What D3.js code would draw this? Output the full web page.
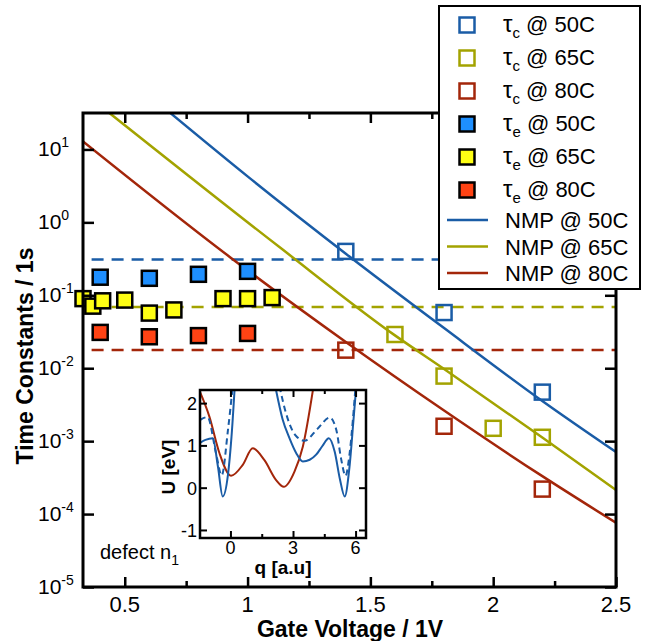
<!DOCTYPE html>
<html>
<head>
<meta charset="utf-8">
<script src="https://cdn.jsdelivr.net/npm/d3@7"></script>
<style>
  body { margin: 0; background: #fff; }
  text { font-family: "Liberation Sans", Arial, sans-serif; fill: #000; }
</style>
</head>
<body>
<script>
// capture times (open squares)
var tcVolt50 = [1.4, 1.8, 2.2];
var tc50 = [0.40, 0.058, 0.0047];
var tcVolt65 = [1.6, 1.8, 2.0, 2.2];
var tc65 = [0.029, 0.0078, 0.0015, 0.00113];
var tcVolt80 = [1.4, 1.8, 2.2];
var tc80 = [0.0177, 0.0016, 0.00022];

// emission times (filled squares)
var teVolt50 = [0.4, 0.6, 0.8, 1.0];
var te50 = [0.177, 0.171, 0.194, 0.213];
var teVolt65 = [0.33, 0.37, 0.41, 0.5, 0.6, 0.7, 0.9, 1.0, 1.1];
var te65 = [0.090, 0.071, 0.084, 0.086, 0.057, 0.063, 0.090, 0.090, 0.093];
var teVolt80 = [0.4, 0.6, 0.8, 1.0];
var te80 = [0.031, 0.027, 0.028, 0.030];

// NMP emission levels (dashed) for 50C, 65C, 80C
var teLevel = [0.31, 0.069, 0.0178];

// NMP capture curves
var nmpVolt50 = [0.683, 1.0, 1.4, 1.8, 2.2, 2.5];
var nmp50 = [32.1, 4.27, 0.372, 0.0355, 0.00355, 0.000708];
var nmpVolt65 = [0.435, 1.131, 1.6, 1.8, 2.2, 2.5];
var nmp65 = [32.1, 0.455, 0.0282, 0.00977, 0.00112, 0.000214];
var nmpVolt80 = [0.33, 0.93, 1.4, 1.8, 2.2, 2.5];
var nmp80 = [12.9, 0.331, 0.0229, 0.00263, 0.000331, 0.0000759];

var xTicks = [0.5, 1, 1.5, 2, 2.5];
var xMinor = [0.75, 1.25, 1.75, 2.25];
var yTicks = [1e-5, 1e-4, 1e-3, 1e-2, 1e-1, 1, 10];
var yExp = ["-5", "-4", "-3", "-2", "-1", "0", "1"];

// inset: configuration coordinate potentials
var qRed = [-1.49, -1.01, -0.53, 0.03, 0.59, 1.07, 1.63, 2.19, 2.56, 3.07, 3.47, 4.0];
var uRed = [2.3, 1.68, 0.82, 0.28, 0.54, 0.93, 0.65, 0.18, 0.02, 0.38, 0.97, 2.45];
var qBlueL = [-1.46, -1.2, -0.85, -0.6, -0.37, -0.12, 0.05, 0.22];
var uBlueL = [1.06, 1.13, 1.17, 0.5, -0.21, 0.3, 1.2, 2.5];
var qBlueR = [2.19, 2.5, 2.83, 3.15, 3.47, 3.8, 4.11, 4.4, 4.72, 5.0, 5.25, 5.48, 5.7, 5.9, 6.05];
var uBlueR = [2.3, 1.62, 1.17, 0.82, 0.62, 0.66, 0.78, 0.98, 1.17, 0.85, 0.2, -0.21, 0.45, 1.6, 2.5];
var qDashL = [-1.46, -1.1, -0.69, -0.42, -0.12, 0.11];
var uDashL = [1.6, 1.67, 0.81, 0.29, 1.36, 2.4];
var qDashR = [2.35, 2.67, 3.1, 3.55, 4.19, 4.76, 5.08, 5.3, 5.52, 5.7, 5.87, 6.0];
var uDashR = [2.4, 1.75, 1.25, 1.11, 1.40, 1.66, 1.36, 0.7, 0.28, 0.75, 1.6, 2.4];
var qTicks = [0, 3, 6];
var qMinor = [1.5, 4.5];
var uTicks = [-1, 0, 1, 2];

var blue = "#1a5ca6", olive = "#a3a300", red = "#a3260a";
var blueFill = "#1e8fff", yellowFill = "#ffff14", redFill = "#ff4314";

var W = 646, H = 641;
var svg = d3.select("body").append("svg").attr("width", W).attr("height", H);

var x = d3.scaleLinear().domain([0.33, 2.5]).range([83, 616]);
var y = d3.scaleLog().domain([1e-5, 31.6]).range([587, 113]);

svg.append("clipPath").attr("id", "plotClip")
    .append("rect").attr("x", 83).attr("y", 113).attr("width", 533).attr("height", 474);

function zip(a, b) { return a.map(function (v, i) { return [v, b[i]]; }); }

// dashed emission levels
var dashColors = [blue, olive, red];
svg.append("g").selectAll("line")
    .data(teLevel).enter().append("line")
    .attr("x1", x(0.365)).attr("x2", x(2.5))
    .attr("y1", (d) => y(d)).attr("y2", (d) => y(d))
    .style("stroke", (d, i) => dashColors[i])
    .style("stroke-width", 2.5)
    .style("stroke-dasharray", "12,8");

// NMP curves
var line = d3.line().x((d) => x(d[0])).y((d) => y(d[1])).curve(d3.curveMonotoneX);
var nmpSeries = [[zip(nmpVolt50, nmp50), blue], [zip(nmpVolt65, nmp65), olive], [zip(nmpVolt80, nmp80), red]];
svg.append("g").attr("clip-path", "url(#plotClip)")
    .selectAll("path").data(nmpSeries).enter().append("path")
    .attr("d", (d) => line(d[0]))
    .style("fill", "none")
    .style("stroke", (d) => d[1])
    .style("stroke-width", 2.5);

// squares
var sq = 15;
function squares(volts, vals, stroke, fill) {
    svg.append("g").selectAll("rect")
        .data(zip(volts, vals)).enter().append("rect")
        .attr("x", (d) => x(d[0]) - sq / 2)
        .attr("y", (d) => y(d[1]) - sq / 2)
        .attr("width", sq).attr("height", sq)
        .style("fill", fill)
        .style("stroke", stroke)
        .style("stroke-width", 2.5);
}
squares(teVolt50, te50, "#000", blueFill);
squares(teVolt65, te65, "#000", yellowFill);
squares(teVolt80, te80, "#000", redFill);
squares(tcVolt50, tc50, blue, "none");
squares(tcVolt65, tc65, olive, "none");
squares(tcVolt80, tc80, red, "none");

// axes (ticks pointing inward, mirrored)
function styleAxis(g) {
    g.select(".domain").remove();
    g.selectAll("line").style("stroke", "#000").style("stroke-width", 2.5);
}
svg.append("g").attr("transform", "translate(0,587)")
    .call(d3.axisBottom(x).tickValues(xTicks).tickSize(-10).tickFormat("")).call(styleAxis);
svg.append("g").attr("transform", "translate(0,587)")
    .call(d3.axisBottom(x).tickValues(xMinor).tickSize(-6).tickFormat("")).call(styleAxis);
svg.append("g").attr("transform", "translate(0,113)")
    .call(d3.axisTop(x).tickValues(xTicks).tickSize(-10).tickFormat("")).call(styleAxis);
svg.append("g").attr("transform", "translate(0,113)")
    .call(d3.axisTop(x).tickValues(xMinor).tickSize(-6).tickFormat("")).call(styleAxis);
svg.append("g").attr("transform", "translate(83,0)")
    .call(d3.axisLeft(y).tickValues(yTicks).tickSize(-11).tickFormat("")).call(styleAxis);
svg.append("g").attr("transform", "translate(616,0)")
    .call(d3.axisRight(y).tickValues(yTicks).tickSize(-11).tickFormat("")).call(styleAxis);

svg.append("rect").attr("x", 83).attr("y", 113).attr("width", 533).attr("height", 474)
    .style("fill", "none").style("stroke", "#000").style("stroke-width", 3);

// tick labels
svg.append("g").selectAll("text").data(xTicks).enter().append("text")
    .attr("x", (d) => x(d)).attr("y", 612)
    .attr("text-anchor", "middle")
    .style("font-size", "22px")
    .text((d) => d);

var yl = svg.append("g").selectAll("text").data(yTicks).enter().append("text")
    .attr("x", 38).attr("y", (d) => y(d) + 7)
    .style("font-size", "21px");
yl.append("tspan").text("10");
yl.append("tspan").attr("dy", -9).style("font-size", "14px").text((d, i) => yExp[i]);

// axis titles
svg.append("text").attr("x", 350).attr("y", 637)
    .attr("text-anchor", "middle")
    .style("font-size", "23px").style("font-weight", "bold")
    .text("Gate Voltage / 1V");
svg.append("text").attr("transform", "translate(33,356) rotate(-90)")
    .attr("text-anchor", "middle")
    .style("font-size", "23px").style("font-weight", "bold")
    .text("Time Constants / 1s");

var dn = svg.append("text").attr("x", 100).attr("y", 559).style("font-size", "20px");
dn.append("tspan").text("defect n");
dn.append("tspan").attr("dy", 6).style("font-size", "14px").text("1");

// ---- inset ----
var qx = d3.scaleLinear().domain([-1.46, 6.5]).range([200, 366]);
var uy = d3.scaleLinear().domain([-1.19, 2.31]).range([538, 390]);

svg.append("rect").attr("x", 200).attr("y", 390).attr("width", 166).attr("height", 148)
    .style("fill", "#fff");
svg.append("clipPath").attr("id", "insetClip")
    .append("rect").attr("x", 200).attr("y", 390).attr("width", 166).attr("height", 148);

var pline = d3.line().x((d) => qx(d[0])).y((d) => uy(d[1])).curve(d3.curveMonotoneX);
var inset = svg.append("g").attr("clip-path", "url(#insetClip)");
var curves = [
    [zip(qRed, uRed), red, null],
    [zip(qBlueL, uBlueL), blue, null],
    [zip(qBlueR, uBlueR), blue, null],
    [zip(qDashL, uDashL), blue, "6,4"],
    [zip(qDashR, uDashR), blue, "6,4"]
];
inset.selectAll("path").data(curves).enter().append("path")
    .attr("d", (d) => pline(d[0]))
    .style("fill", "none")
    .style("stroke", (d) => d[1])
    .style("stroke-width", 2)
    .style("stroke-dasharray", (d) => d[2]);

function styleInset(g) {
    g.select(".domain").remove();
    g.selectAll("line").style("stroke", "#000").style("stroke-width", 2);
}
svg.append("g").attr("transform", "translate(0,538)")
    .call(d3.axisBottom(qx).tickValues(qTicks).tickSize(-7).tickFormat("")).call(styleInset);
svg.append("g").attr("transform", "translate(0,538)")
    .call(d3.axisBottom(qx).tickValues(qMinor).tickSize(-4).tickFormat("")).call(styleInset);
svg.append("g").attr("transform", "translate(0,390)")
    .call(d3.axisTop(qx).tickValues(qTicks).tickSize(-7).tickFormat("")).call(styleInset);
svg.append("g").attr("transform", "translate(0,390)")
    .call(d3.axisTop(qx).tickValues(qMinor).tickSize(-4).tickFormat("")).call(styleInset);
svg.append("g").attr("transform", "translate(200,0)")
    .call(d3.axisLeft(uy).tickValues(uTicks).tickSize(-7).tickFormat("")).call(styleInset);
svg.append("g").attr("transform", "translate(366,0)")
    .call(d3.axisRight(uy).tickValues(uTicks).tickSize(-7).tickFormat("")).call(styleInset);
svg.append("rect").attr("x", 200).attr("y", 390).attr("width", 166).attr("height", 148)
    .style("fill", "none").style("stroke", "#000").style("stroke-width", 2.5);

svg.append("g").selectAll("text").data(qTicks).enter().append("text")
    .attr("x", (d) => qx(d)).attr("y", 554)
    .attr("text-anchor", "middle").style("font-size", "18px")
    .text((d) => d);
svg.append("g").selectAll("text").data(uTicks).enter().append("text")
    .attr("x", 197).attr("y", (d) => uy(d) + 7)
    .attr("text-anchor", "end").style("font-size", "18px")
    .text((d) => d);
svg.append("text").attr("x", 283).attr("y", 574)
    .attr("text-anchor", "middle")
    .style("font-size", "19px").style("font-weight", "bold")
    .text("q [a.u]");
svg.append("text").attr("transform", "translate(175,467) rotate(-90)")
    .attr("text-anchor", "middle")
    .style("font-size", "19px").style("font-weight", "bold")
    .text("U [eV]");

// ---- legend ----
var leg = svg.append("g");
leg.append("rect").attr("x", 439).attr("y", 6).attr("width", 201).attr("height", 283)
    .style("fill", "#fff").style("stroke", "#000").style("stroke-width", 2);

var legMarks = [
    ["c", "50C", blue, "none"], ["c", "65C", olive, "none"], ["c", "80C", red, "none"],
    ["e", "50C", "#000", blueFill], ["e", "65C", "#000", yellowFill], ["e", "80C", "#000", redFill]
];
var legY = d3.scaleLinear().domain([0, 5]).range([25, 190]);
legMarks.forEach(function (m, i) {
    var cy = legY(i);
    leg.append("rect").attr("x", 467 - sq / 2).attr("y", cy - sq / 2)
        .attr("width", sq).attr("height", sq)
        .style("fill", m[3]).style("stroke", m[2]).style("stroke-width", 2.5);
    var t = leg.append("text").attr("x", 503).attr("y", cy + 7).style("font-size", "22px");
    t.append("tspan").style("font-size", "24px").text("\u03c4");
    t.append("tspan").attr("dy", 6).style("font-size", "15px").text(m[0]);
    t.append("tspan").attr("dy", -6).text(" @ " + m[1]);
});

var legLines = [["NMP @ 50C", blue], ["NMP @ 65C", olive], ["NMP @ 80C", red]];
var legLY = d3.scaleLinear().domain([0, 2]).range([220, 273]);
legLines.forEach(function (m, i) {
    var cy = legLY(i);
    leg.append("line").attr("x1", 447).attr("x2", 488).attr("y1", cy).attr("y2", cy)
        .style("stroke", m[1]).style("stroke-width", 2.5);
    leg.append("text").attr("x", 505).attr("y", cy + 8).style("font-size", "22px").text(m[0]);
});
</script>
</body>
</html>
